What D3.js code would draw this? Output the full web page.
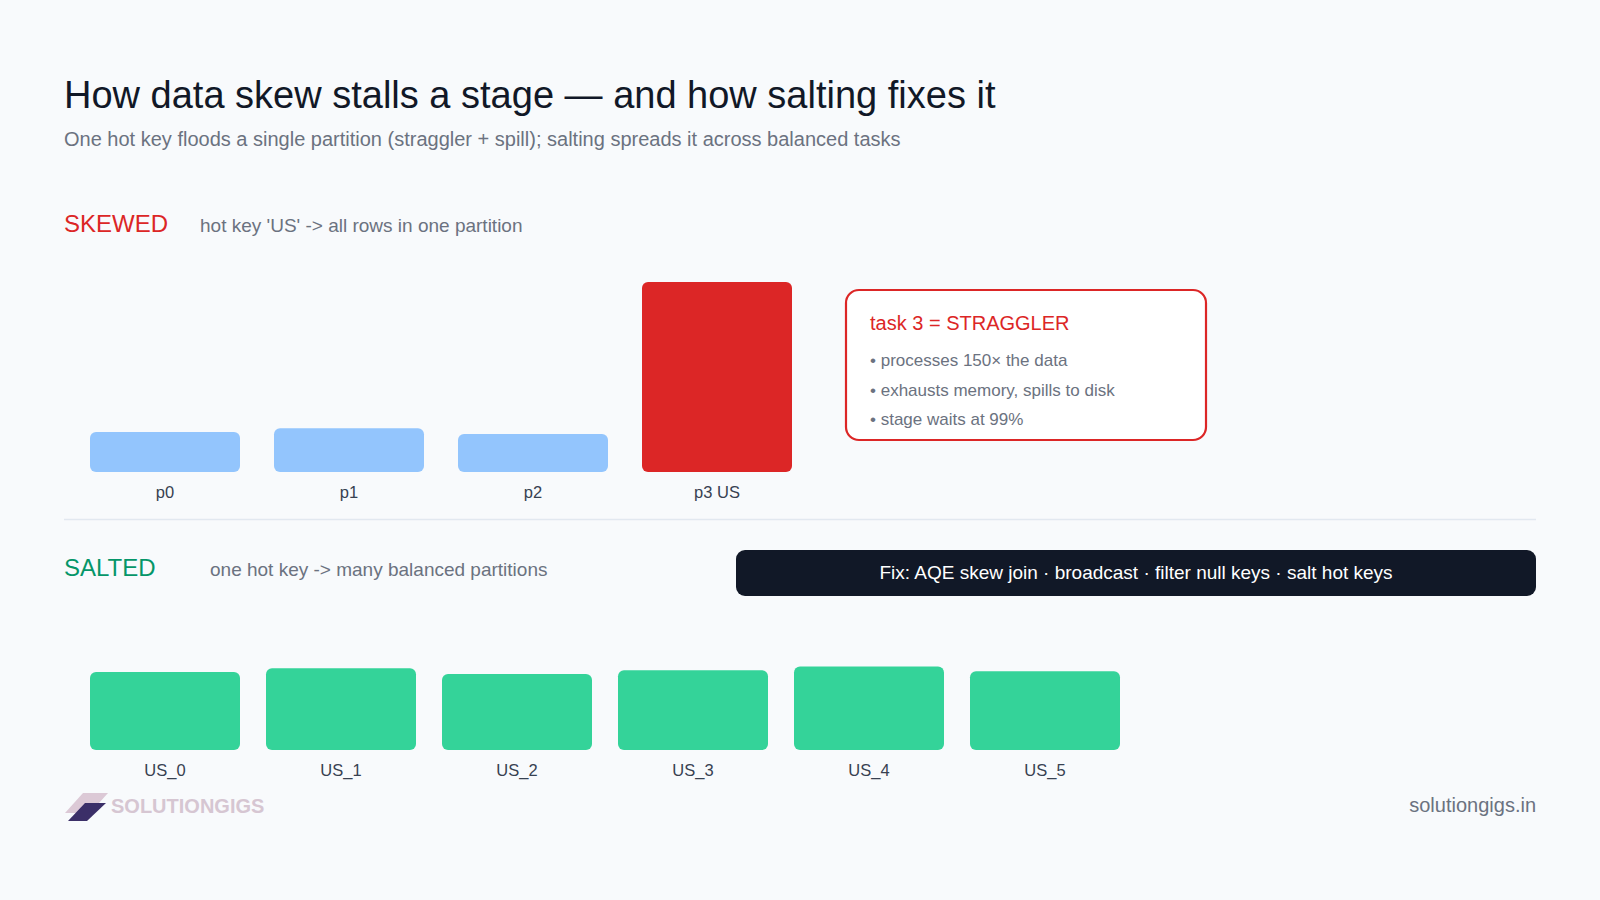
<!DOCTYPE html>
<html>
<head>
<meta charset="utf-8">
<script src="https://cdn.jsdelivr.net/npm/d3@7"></script>
<style>
  html, body { margin: 0; padding: 0; background: #f8fafc; }
  svg { display: block; font-family: "Liberation Sans", Arial, Helvetica, sans-serif; }
</style>
</head>
<body>
<div id="chart-area"></div>
<script>
// skewed stage: rows per partition (relative units)
const skewCats = ["p0", "p1", "p2", "p3 US"];
const skewVals = [21, 23, 20, 100];

// salted stage: the hot key split into 6 salted partitions
const saltCats = ["US_0", "US_1", "US_2", "US_3", "US_4", "US_5"];
const saltVals = [41, 43, 40, 42, 44, 41.5];

const calloutLines = ["processes 150\u00d7 the data", "exhausts memory, spills to disk", "stage waits at 99%"];

const svg = d3.select("#chart-area").append('svg')
                .attr("width", 1600)
                .attr("height", 900);

svg.append('rect')
    .attr('width', 1600).attr('height', 900)
    .attr('fill', '#f8fafc');

// titles
svg.append('text')
    .attr('x', 64).attr('y', 108)
    .attr('font-size', 38).attr('fill', '#111827')
    .text("How data skew stalls a stage \u2014 and how salting fixes it");

svg.append('text')
    .attr('x', 64).attr('y', 146)
    .attr('font-size', 20).attr('fill', '#6b7280')
    .text("One hot key floods a single partition (straggler + spill); salting spreads it across balanced tasks");

// shared height scale
const h = d3.scaleLinear().domain([0, 100]).range([0, 190]);

// ---- SKEWED ----
svg.append('text')
    .attr('x', 64).attr('y', 232)
    .attr('font-size', 24).attr('fill', '#dc2626')
    .text("SKEWED");
svg.append('text')
    .attr('x', 200).attr('y', 232)
    .attr('font-size', 19).attr('fill', '#6b7280')
    .text("hot key 'US' -> all rows in one partition");

const x1 = d3.scaleBand().domain(skewCats).range([90, 792]).paddingInner(34 / 184);
const base1 = 472;

svg.selectAll('rect.skew')
    .data(skewVals).enter()
        .append('rect')
            .attr('class', 'skew')
            .attr('x', (d, i) => x1(skewCats[i]))
            .attr('y', d => base1 - h(d))
            .attr('width', x1.bandwidth())
            .attr('height', d => h(d))
            .attr('rx', 6)
            .attr('fill', (d, i) => i === 3 ? '#dc2626' : '#93c5fd');

svg.selectAll('text.skewlbl')
    .data(skewCats).enter()
        .append('text')
            .attr('class', 'skewlbl')
            .attr('x', d => x1(d) + x1.bandwidth() / 2)
            .attr('y', base1 + 26)
            .attr('text-anchor', 'middle')
            .attr('font-size', 16.5).attr('fill', '#374151')
            .text(d => d);

// callout
const cg = svg.append('g');
cg.append('rect')
    .attr('x', 846).attr('y', 290)
    .attr('width', 360).attr('height', 150)
    .attr('rx', 13)
    .attr('fill', '#ffffff')
    .attr('stroke', '#dc2626').attr('stroke-width', 2.2);
cg.append('text')
    .attr('x', 870).attr('y', 330)
    .attr('font-size', 20).attr('fill', '#dc2626')
    .text("task 3 = STRAGGLER");
cg.selectAll('text.bl')
    .data(calloutLines).enter()
        .append('text')
            .attr('class', 'bl')
            .attr('x', 870)
            .attr('y', (d, i) => 366 + i * 29.5)
            .attr('font-size', 17).attr('fill', '#6b7280')
            .text(d => "\u2022 " + d);

// separator
svg.append('line')
    .attr('x1', 64).attr('x2', 1536)
    .attr('y1', 519.5).attr('y2', 519.5)
    .attr('stroke', '#e2e8f0').attr('stroke-width', 1.5);

// ---- SALTED ----
svg.append('text')
    .attr('x', 64).attr('y', 576)
    .attr('font-size', 24).attr('fill', '#059669')
    .text("SALTED");
svg.append('text')
    .attr('x', 210).attr('y', 576)
    .attr('font-size', 19).attr('fill', '#6b7280')
    .text("one hot key -> many balanced partitions");

svg.append('rect')
    .attr('x', 736).attr('y', 550)
    .attr('width', 800).attr('height', 46)
    .attr('rx', 9)
    .attr('fill', '#111827');
svg.append('text')
    .attr('x', 1136).attr('y', 579)
    .attr('text-anchor', 'middle')
    .attr('font-size', 19).attr('fill', '#ffffff')
    .text("Fix: AQE skew join \u00b7 broadcast \u00b7 filter null keys \u00b7 salt hot keys");

const x2 = d3.scaleBand().domain(saltCats).range([90, 1120]).paddingInner(26 / 176);
const base2 = 750;

svg.selectAll('rect.salt')
    .data(saltVals).enter()
        .append('rect')
            .attr('class', 'salt')
            .attr('x', (d, i) => x2(saltCats[i]))
            .attr('y', d => base2 - h(d))
            .attr('width', x2.bandwidth())
            .attr('height', d => h(d))
            .attr('rx', 6)
            .attr('fill', '#34d399');

svg.selectAll('text.saltlbl')
    .data(saltCats).enter()
        .append('text')
            .attr('class', 'saltlbl')
            .attr('x', d => x2(d) + x2.bandwidth() / 2)
            .attr('y', base2 + 26)
            .attr('text-anchor', 'middle')
            .attr('font-size', 16.5).attr('fill', '#374151')
            .text(d => d);

// footer
svg.append('path')
    .attr('d', 'M83,793 L108,793 L90,813 L65,813 Z')
    .attr('fill', '#dcc9d6');
svg.append('path')
    .attr('d', 'M85,803 L106,803 L87,821 L68,821 Z')
    .attr('fill', '#3b2f68');
svg.append('text')
    .attr('x', 111).attr('y', 813)
    .attr('font-size', 20).attr('font-weight', 'bold')
    .attr('fill', '#d6c6d2')
    .text("SOLUTIONGIGS");

svg.append('text')
    .attr('x', 1536).attr('y', 812)
    .attr('text-anchor', 'end')
    .attr('font-size', 20).attr('fill', '#6b7280')
    .text("solutiongigs.in");
</script>
</body>
</html>
